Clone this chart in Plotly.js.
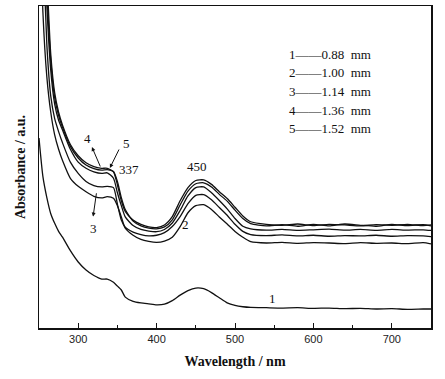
<!DOCTYPE html>
<html>
<head>
<meta charset="utf-8">
<script src="https://cdn.plot.ly/plotly-3.0.1.min.js"></script>
<style>html,body{margin:0;padding:0;background:#fff;}#chart{width:445px;height:379px;}</style>
</head>
<body>
<div id="chart"></div>
<script>
// Wavelength grid (nm)
const wavelength = [250,255,260,265,270,275,280,290,300,310,320,330,337,345,350,355,360,370,380,390,400,410,420,430,440,450,460,470,480,490,500,510,520,540,560,580,600,620,640,660,680,700,720,740,750];

// Absorbance (a.u.)
const curve1 = [59,47,40.5,35.5,32.5,30,28.2,24,20.5,18,16.3,15.2,15.2,14.2,13,11.8,9.6,8.3,7.8,7.5,7.2,7.4,8.5,10.2,11.6,12.4,12.2,11,9.4,7.8,7,6.6,6.4,6.3,6.2,6.3,6.1,6.2,6.0,6.1,5.9,6.0,5.8,5.9,5.9];
const curve2 = [140,98,78,67,60,55.5,52,46.5,44,42.3,40.9,40.4,40.8,40.3,38,34.5,31,28.8,27.5,26.9,26.6,27,28.2,31.5,35.8,38,38.3,36.8,34.5,32.3,30,28.2,26.8,26.4,26.6,26.3,26.5,26.4,26.2,26.5,26.3,26.4,26.2,26.5,26.1];
const curve3 = [150,120,88,72,65,61,57.5,51.5,48,45.5,44.2,43.8,44,43.6,38.5,33.5,31.3,29.8,29,28.6,28.8,29.6,31.5,34.6,38.6,41.2,41.4,39.8,37.4,35,32.2,30,29,28.7,28.9,28.6,28.8,28.5,28.7,28.6,28.8,28.5,28.7,28.6,28.4];
const curve4 = [160,130,100,80,69.5,64.5,61.5,55.5,51.5,49.6,48.5,48,48.2,46.5,42,38,34.5,31.8,30.6,30.1,29.9,30.6,32.6,36.5,41,43.6,43.8,42,39.6,37,34,31.6,30.8,30.4,30.6,30.3,30.5,30.7,30.4,30.6,30.3,30.6,30.4,30.5,30.3];
const curve5a = [165,135,105,83,71.5,66,62.3,56.4,52.8,50.6,49.5,49,49.2,48.6,45.5,40.5,36.8,33.2,31.7,31.0,30.8,31.4,33.6,38.2,42.5,44.8,45.1,43.8,41.5,39.4,36.6,34,32.4,31.7,32.1,31.6,32.2,31.7,32.3,31.9,31.6,32.2,31.8,32.1,31.7];
const curve5b = [170,140,110,85,73,67,63,57,53.5,51.3,50.1,49.6,49.6,48.5,44.5,39.5,36.2,33.5,32.2,31.4,31.2,32,34.6,39.5,43.6,45.8,46,44.6,42.3,40.2,37.5,34.8,33,32.2,31.9,32.3,31.8,32.2,32,31.7,32.1,31.9,32.2,31.8,32];

const legendLines = ["1——0.88  mm","2——1.00  mm","3——1.14  mm","4——1.36  mm","5——1.52  mm"];
const legendY = [84.8,79.2,73.6,67.7,62.1];

const series = [curve1, curve2, curve3, curve4, curve5a, curve5b];
const traces = series.map(s => ({
  x: wavelength, y: s, type: 'scatter', mode: 'lines',
  line: {color: '#111', width: 1.3, shape: 'spline', smoothing: 0.6},
  showlegend: false, hoverinfo: 'skip', cliponaxis: true
}));

const serif = 'Liberation Serif, Times New Roman, serif';
const annotations = [];
legendLines.forEach((t, i) => annotations.push({
  x: 566, y: legendY[i], xref: 'x', yref: 'y', text: t, showarrow: false,
  xanchor: 'left', yanchor: 'middle', font: {family: serif, size: 13, color: '#111'}
}));
const labels = [
  {x: 312, y: 59, text: '4'},
  {x: 319, y: 31, text: '3'},
  {x: 362, y: 57.3, text: '5'},
  {x: 365, y: 49.1, text: '337'},
  {x: 451, y: 50.1, text: '450'},
  {x: 437, y: 32, text: '2'},
  {x: 548, y: 9.3, text: '1'}
];
labels.forEach(l => annotations.push({
  x: l.x, y: l.y, xref: 'x', yref: 'y', text: l.text, showarrow: false,
  font: {family: serif, size: 13, color: '#111'}
}));
// arrows
const arrows = [
  {x: 317.5, y: 56.2, ax: 329, ay: 49.7},
  {x: 319, y: 34.6, ax: 323.5, ay: 42.3},
  {x: 340.4, y: 49.7, ax: 353, ay: 55.9}
];
arrows.forEach(a => annotations.push({
  x: a.x, y: a.y, ax: a.ax, ay: a.ay, xref: 'x', yref: 'y', axref: 'x', ayref: 'y',
  text: '', showarrow: true, arrowhead: 2, arrowsize: 0.8, arrowwidth: 1, arrowcolor: '#111'
}));

const layout = {
  width: 445, height: 379,
  margin: {l: 39, r: 14, t: 6, b: 51},
  paper_bgcolor: '#fff', plot_bgcolor: '#fff',
  showlegend: false,
  xaxis: {
    range: [250, 750], tickvals: [300,400,500,600,700], ticks: 'inside', ticklen: 5, tickwidth: 1,
    tickcolor: '#111', showline: true, linecolor: '#111', linewidth: 1.5, mirror: true,
    showgrid: false, zeroline: false,
    minor: {tickvals: [350,450,550,650], ticks: 'inside', ticklen: 3, tickcolor: '#111'},
    tickfont: {family: 'Liberation Sans, Arial, sans-serif', size: 11, color: '#222'},
    title: {text: '<b>Wavelength / nm</b>', font: {family: serif, size: 14, color: '#111'}, standoff: 12}
  },
  yaxis: {
    range: [0, 100], showticklabels: false, ticks: '', showline: true, linecolor: '#111', linewidth: 1.5,
    mirror: true, showgrid: false, zeroline: false,
    title: {text: '<b>Absorbance / a.u.</b>', font: {family: serif, size: 14, color: '#111'}, standoff: 8}
  },
  annotations: annotations
};
Plotly.newPlot('chart', traces, layout, {displayModeBar: false, staticPlot: true});
</script>
</body>
</html>
